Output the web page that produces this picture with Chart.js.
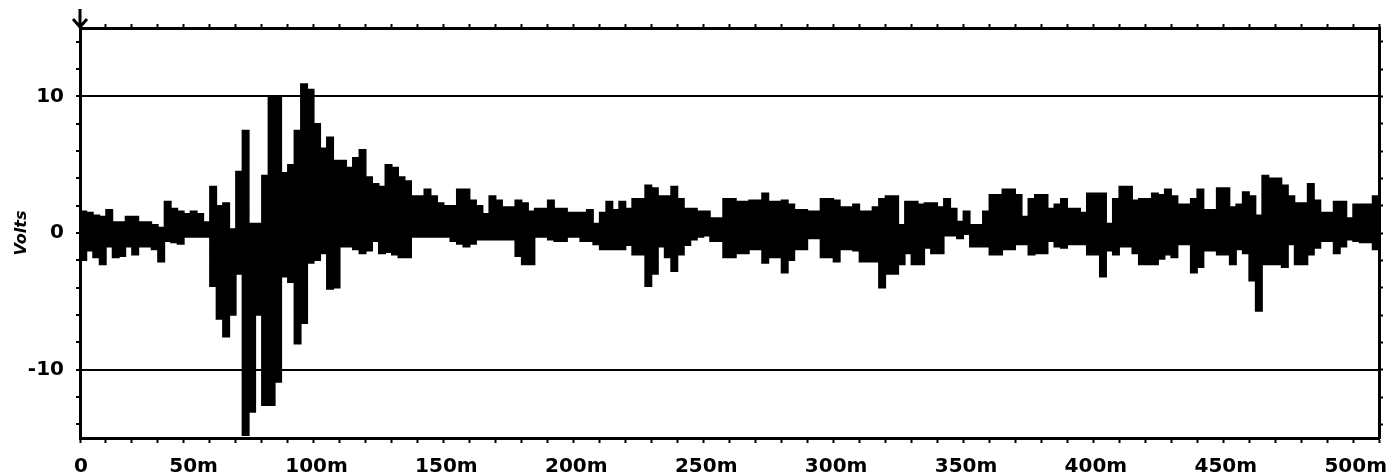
<!DOCTYPE html>
<html>
<head>
<meta charset="utf-8">
<script src="https://cdn.jsdelivr.net/npm/chart.js@4/dist/chart.umd.min.js"></script>
<style>
  html, body { margin: 0; padding: 0; background: #fff; }
  #wrap { position: relative; width: 1391px; height: 475px; }
</style>
</head>
<body>
<div id="wrap"><canvas id="chart"></canvas></div>
<script>
// Trace envelope, one value per 2.5 ms sample
const SAMPLE_MS = 2.5;

const upperEnvelope = [
  1.6, 1.5, 1.3, 1.2, 1.7, 0.8, 0.8, 1.2, 1.2, 0.8,
  0.8, 0.6, 0.4, 2.3, 1.8, 1.6, 1.4, 1.6, 1.4, 0.8,
  3.4, 2.0, 2.2, 0.3, 4.5, 7.5, 0.7, 0.7, 4.2, 9.9,
  10.0, 4.4, 5.0, 7.5, 10.9, 10.5, 8.0, 6.2, 7.0, 5.3,
  5.3, 4.8, 5.5, 6.1, 4.1, 3.6, 3.4, 5.0, 4.8, 4.1,
  3.8, 2.7, 2.7, 3.2, 2.7, 2.2, 2.0, 2.0, 3.2, 3.2,
  2.4, 2.0, 1.4, 2.7, 2.4, 1.9, 1.9, 2.4,
  2.2, 1.6, 1.8, 1.8, 2.4, 1.8, 1.8, 1.5, 1.5, 1.5,
  1.7, 0.7, 1.5, 2.3, 1.7, 2.3, 1.8, 2.5, 2.5, 3.5,
  3.3, 2.7, 2.7, 3.4, 2.5, 1.8, 1.8, 1.6, 1.6, 1.1,
  1.1, 2.5, 2.5, 2.3, 2.3, 2.4, 2.4, 2.9, 2.3, 2.3,
  2.4, 2.1, 1.7, 1.7, 1.6, 1.6, 2.5, 2.5, 2.4, 1.9,
  1.9, 2.1, 1.6, 1.6, 1.9, 2.5, 2.7, 2.7, 0.6, 2.3,
  2.3, 2.1, 2.2, 2.2, 1.9, 2.5, 1.8,
  0.85, 1.6, 0.6, 0.6, 1.6, 2.8, 2.8, 3.2, 3.2, 2.8,
  1.2, 2.5, 2.8, 2.8, 1.8, 2.1, 2.5, 1.8, 1.8, 1.5,
  2.9, 2.9, 2.9, 0.7, 2.5, 3.4, 3.4, 2.4, 2.5, 2.5,
  2.9, 2.8, 3.2, 2.7, 2.1, 2.1, 2.5, 3.2, 1.7, 1.7,
  3.3, 3.3, 1.9, 2.1, 3.0, 2.7, 1.3, 4.2, 4.0, 4.0,
  3.5, 2.7, 2.2, 2.2, 3.6, 2.4, 1.5, 1.5, 2.3, 2.3,
  1.1, 2.1, 2.1, 2.1, 2.7, 2.7
];

const lowerEnvelope = [
  -2.0, -1.3, -1.8, -2.3, -1.0, -1.8, -1.7, -1.0, -1.6, -1.0,
  -1.0, -1.2, -2.1, -0.6, -0.7, -0.8, -0.3, -0.3, -0.3, -0.3,
  -3.9, -6.3, -7.6, -6.0, -3.0, -14.8, -13.1, -6.0, -12.6, -12.6,
  -10.9, -3.2, -3.6, -8.1, -6.6, -2.2, -2.0, -1.5, -4.1, -4.0,
  -1.0, -1.0, -1.2, -1.5, -1.3, -0.6, -1.5, -1.4, -1.6, -1.8,
  -1.8, -0.3, -0.3, -0.3, -0.3, -0.3, -0.3, -0.6, -0.8, -1.0,
  -0.8, -0.5, -0.5, -0.5, -0.5, -0.5, -0.5, -1.7,
  -2.3, -2.3, -0.3, -0.3, -0.5, -0.6, -0.6, -0.3, -0.3, -0.6,
  -0.6, -0.85, -1.2, -1.2, -1.2, -1.2, -0.9, -1.6, -1.6, -3.9,
  -3.0, -1.0, -1.8, -2.8, -1.6, -0.9, -0.5, -0.3, -0.2, -0.6,
  -0.6, -1.8, -1.8, -1.5, -1.5, -1.2, -1.2, -2.2, -1.8, -1.8,
  -2.9, -2.0, -1.2, -1.2, -0.4, -0.4, -1.8, -1.8, -2.1, -1.2,
  -1.2, -1.3, -2.1, -2.1, -2.1, -4.0, -3.0, -3.0, -2.3, -1.5,
  -2.3, -2.3, -1.1, -1.5, -1.5, -0.2, -0.2,
  -0.4, -0.1, -1.0, -1.0, -1.0, -1.6, -1.6, -1.2, -1.2, -0.85,
  -0.85, -1.6, -1.5, -1.5, -0.6, -1.0, -1.1, -0.85, -0.85, -0.85,
  -1.6, -1.6, -3.2, -1.3, -1.6, -1.0, -1.0, -1.5, -2.3, -2.3,
  -2.3, -1.9, -1.6, -1.8, -0.85, -0.85, -2.9, -2.5, -1.3, -1.3,
  -1.6, -1.6, -2.3, -1.2, -1.5, -3.5, -5.7, -2.3, -2.3, -2.3,
  -2.5, -0.85, -2.3, -2.3, -1.6, -1.1, -0.6, -0.6, -1.5, -1.0,
  -0.5, -0.6, -0.7, -0.7, -1.2, -1.2
];

// Axes
const xLabelValues = [0, 50, 100, 150, 200, 250, 300, 350, 400, 450, 500];
const xMinorStep = 10;
const yLabelValues = [-10, 0, 10];
const yMinorTicks = [-14, -12, -10, -8, -6, -4, -2, 0, 2, 4, 6, 8, 10, 12, 14];
const yTitle = "Volts";

const toPoints = (arr) => arr.map((v, i) => ({ x: i * SAMPLE_MS, y: v }));

function xMinorTicks() {
  const out = [];
  for (let v = 0; v <= 500; v += xMinorStep) out.push({ value: v });
  return out;
}

const labelFont = { family: "'DejaVu Sans', sans-serif", size: 20, weight: "bold" };

// Down arrow drawn above the top-left corner of the frame
const cornerArrow = {
  id: "cornerArrow",
  afterDraw(chart) {
    const { ctx, chartArea } = chart;
    const x = chartArea.left, y = chartArea.top;
    ctx.save();
    ctx.strokeStyle = "#000";
    ctx.lineWidth = 3;
    ctx.beginPath();
    ctx.moveTo(x, y - 19);
    ctx.lineTo(x, y);
    ctx.moveTo(x - 7, y - 9);
    ctx.lineTo(x, y - 1);
    ctx.lineTo(x + 7, y - 9);
    ctx.stroke();
    ctx.restore();
  },
};

new Chart(document.getElementById("chart"), {
  type: "line",
  data: {
    datasets: [
      {
        data: toPoints(upperEnvelope),
        borderColor: "#000",
        borderWidth: 1.5,
        pointRadius: 0,
        stepped: true,
        fill: false,
      },
      {
        data: toPoints(lowerEnvelope),
        borderColor: "#000",
        borderWidth: 1.5,
        backgroundColor: "#000",
        pointRadius: 0,
        stepped: true,
        fill: "-1",
      },
    ],
  },
  options: {
    responsive: true,
    maintainAspectRatio: false,
    animation: false,
    devicePixelRatio: 1,
    layout: { padding: 0 },
    plugins: { legend: { display: false }, tooltip: { enabled: false } },
    scales: {
      x: {
        type: "linear",
        position: "bottom",
        min: 0,
        max: 500,
        afterBuildTicks: (s) => { s.ticks = xMinorTicks(); },
        afterFit: (s) => { s.height = 37; },
        ticks: {
          autoSkip: false,
          maxRotation: 0,
          align: "end",
          labelOffset: 8,
          padding: 12,
          color: "#000",
          font: labelFont,
          callback: (v) => (xLabelValues.includes(v) ? (v === 0 ? "0" : v + "m") : ""),
        },
        grid: { drawOnChartArea: false, tickLength: 5, tickWidth: 2, tickColor: "#000" },
        border: { display: true, color: "#000", width: 3 },
      },
      x2: {
        type: "linear",
        axis: "x",
        position: "top",
        min: 0,
        max: 500,
        afterBuildTicks: (s) => { s.ticks = xMinorTicks(); },
        afterFit: (s) => { s.height = 28; },
        ticks: { display: false },
        grid: { drawOnChartArea: false, tickLength: 4, tickWidth: 2, tickColor: "#000" },
        border: { display: true, color: "#000", width: 3 },
      },
      y: {
        type: "linear",
        position: "left",
        min: -15,
        max: 15,
        afterBuildTicks: (s) => { s.ticks = yMinorTicks.map((v) => ({ value: v })); },
        afterFit: (s) => { s.width = 80; },
        ticks: {
          autoSkip: false,
          padding: 12,
          color: "#000",
          font: labelFont,
          callback: (v) => (yLabelValues.includes(v) ? String(v) : ""),
        },
        grid: {
          color: (c) => (c.tick && yLabelValues.includes(c.tick.value) ? "#000" : "rgba(0,0,0,0)"),
          lineWidth: 2,
          tickLength: 4,
          tickWidth: 2,
          tickColor: "#000",
        },
        border: { display: true, color: "#000", width: 3 },
        title: {
          display: true,
          text: yTitle,
          color: "#000",
          font: { family: "'DejaVu Sans', sans-serif", size: 16, style: "italic", weight: "bold" },
          padding: { top: 12, bottom: 0 },
        },
      },
      y2: {
        type: "linear",
        axis: "y",
        position: "right",
        min: -15,
        max: 15,
        afterBuildTicks: (s) => { s.ticks = yMinorTicks.map((v) => ({ value: v })); },
        afterFit: (s) => { s.width = 10; },
        ticks: { display: false },
        grid: { drawOnChartArea: false, tickLength: 4, tickWidth: 2, tickColor: "#000" },
        border: { display: true, color: "#000", width: 3 },
      },
    },
  },
  plugins: [cornerArrow],
});
</script>
</body>
</html>
